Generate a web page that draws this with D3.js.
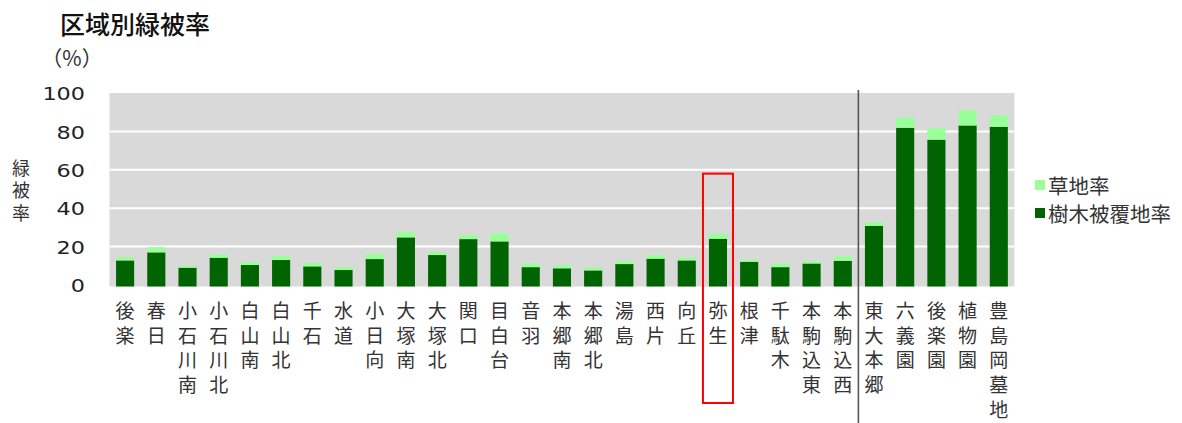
<!DOCTYPE html>
<html lang="ja">
<head>
<meta charset="utf-8">
<script src="https://cdn.jsdelivr.net/npm/d3@7/dist/d3.min.js"></script>
<style>
  html, body { margin: 0; padding: 0; background: #fff; }
  svg { display: block; font-family: "Noto Sans CJK JP", "Noto Sans", sans-serif; }
</style>
</head>
<body>
<svg id="chart" width="1182" height="423"></svg>
<script>
// 区域別の緑被率（％）
const categories = [
  "後楽", "春日", "小石川南", "小石川北", "白山南", "白山北", "千石", "水道",
  "小日向", "大塚南", "大塚北", "関口", "目白台", "音羽", "本郷南", "本郷北",
  "湯島", "西片", "向丘", "弥生", "根津", "千駄木", "本駒込東", "本駒込西",
  "東大本郷", "六義園", "後楽園", "植物園", "豊島岡墓地"
];
// 樹木被覆地率
const treeCover = [
  12.8, 17.0, 9.0, 14.2, 10.4, 13.0, 9.7, 7.8,
  13.5, 24.8, 15.6, 23.9, 22.7, 9.3, 8.7, 7.6,
  10.9, 13.7, 12.8, 24.1, 12.1, 9.3, 11.2, 12.6,
  30.8, 81.9, 75.7, 83.1, 82.4
];
// 草地率
const grassCover = [
  1.6, 2.7, 1.0, 1.7, 1.7, 2.1, 1.9, 1.4,
  2.8, 2.9, 1.5, 2.1, 4.3, 2.0, 1.7, 1.4,
  1.7, 1.9, 1.4, 2.7, 1.1, 1.8, 1.3, 2.3,
  1.9, 5.2, 6.0, 8.0, 5.9
];
const yTicks = [0, 20, 40, 60, 80, 100];
const seriesNames = ["草地率", "樹木被覆地率"];
const highlighted = "弥生";
const dividerBefore = "東大本郷";

const svg = d3.select("#chart");
const colTree = "#006400", colGrass = "#99ff99";

const x = d3.scaleBand()
  .domain(categories)
  .range([109.5, 1014.4])
  .paddingInner(0.42)
  .paddingOuter(0.21);
const y = d3.scaleLinear().domain([0, 100]).range([285, 93]);

// plot background
svg.append("rect")
  .attr("x", x.range()[0]).attr("y", y(100))
  .attr("width", x.range()[1] - x.range()[0])
  .attr("height", y(0) - y(100) + 1.5)
  .attr("fill", "#d9d9d9");

// horizontal grid
svg.append("g").selectAll("line")
  .data(yTicks.filter(t => t > 0 && t < 100))
  .join("line")
  .attr("x1", x.range()[0]).attr("x2", x.range()[1])
  .attr("y1", d => y(d)).attr("y2", d => y(d))
  .attr("stroke", "#fff").attr("stroke-width", 2);

// y axis labels (wide gothic digits)
const yAxis = d3.axisLeft(y).tickValues(yTicks).tickSize(0).tickPadding(0);
svg.append("g")
  .attr("transform", "translate(85,0)")
  .call(yAxis)
  .call(g => g.select(".domain").remove())
  .call(g => g.selectAll("text")
    .attr("font-size", 18.5)
    .attr("fill", "#222")
    .attr("font-family", "'DejaVu Sans', sans-serif")
    .attr("dy", "0.36em")
    .attr("textLength", d => String(d).length * 14.2)
    .attr("lengthAdjust", "spacingAndGlyphs"));

// stacked bars
const rows = categories.map((c, i) => ({ c, tree: treeCover[i], grass: grassCover[i] }));
const bars = svg.append("g");
bars.selectAll("rect.tree").data(rows).join("rect")
  .attr("class", "tree")
  .attr("x", d => x(d.c)).attr("width", x.bandwidth())
  .attr("y", d => y(d.tree)).attr("height", d => y(0) - y(d.tree) + 1.5)
  .attr("fill", colTree);
bars.selectAll("rect.grass").data(rows).join("rect")
  .attr("class", "grass")
  .attr("x", d => x(d.c)).attr("width", x.bandwidth())
  .attr("y", d => y(d.tree + d.grass)).attr("height", d => y(d.tree) - y(d.tree + d.grass))
  .attr("fill", colGrass);

// stacked vertical text: one character per line inside a single <text>
function verticalText(sel, str, cx, y0, step) {
  const t = sel.append("text")
    .attr("text-anchor", "middle")
    .attr("dominant-baseline", "central");
  Array.from(str).forEach((ch, k) => {
    t.append("tspan").attr("x", cx).attr("y", y0 + k * step).text(ch);
  });
  return t;
}

// category labels
const labels = svg.append("g")
  .attr("font-size", 19).attr("fill", "#333");
rows.forEach(d => {
  verticalText(labels, d.c, x(d.c) + x.bandwidth() / 2, 309, 24.7);
});

// divider between ward areas and large parks
const xDiv = x(dividerBefore) - x.step() * x.paddingInner() / 2;
svg.append("line")
  .attr("x1", xDiv).attr("x2", xDiv)
  .attr("y1", 90).attr("y2", 423)
  .attr("stroke", "#555").attr("stroke-width", 1.6);

// highlight box
const hx = x(highlighted) + x.bandwidth() / 2;
svg.append("rect")
  .attr("x", hx - 15).attr("y", y(58))
  .attr("width", 30).attr("height", 403 - y(58))
  .attr("fill", "none").attr("stroke", "#ff0000").attr("stroke-width", 2);

// title
svg.append("text")
  .attr("x", 60).attr("y", 23)
  .attr("dominant-baseline", "central")
  .attr("font-size", 25).attr("font-weight", 500).attr("fill", "#111")
  .text("区域別緑被率");
svg.append("text")
  .attr("x", 72).attr("y", 57)
  .attr("text-anchor", "middle")
  .attr("dominant-baseline", "central")
  .attr("font-size", 21).attr("fill", "#333")
  .text("（%）");

// y axis title, set vertically
svg.append("text")
  .attr("x", 21).attr("y", 159)
  .attr("writing-mode", "vertical-rl")
  .attr("font-size", 18).attr("fill", "#333")
  .style("letter-spacing", "4.5px")
  .text("緑被率");

// legend
const legend = svg.append("g");
[[seriesNames[0], colGrass], [seriesNames[1], colTree]].forEach(([name, col], i) => {
  const ly = 185 + i * 28;
  legend.append("rect")
    .attr("x", 1035).attr("y", ly - 5).attr("width", 10).attr("height", 10)
    .attr("fill", col);
  legend.append("text")
    .attr("x", 1048).attr("y", ly)
    .attr("dominant-baseline", "central")
    .attr("font-size", 20.5).attr("fill", "#333")
    .text(name);
});
</script>
</body>
</html>
